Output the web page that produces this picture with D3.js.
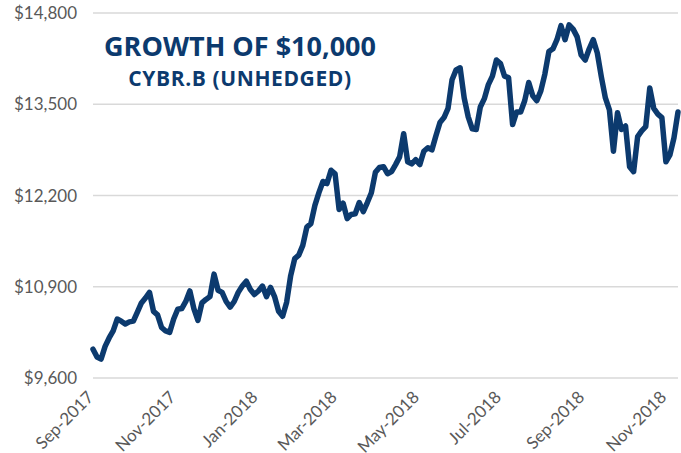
<!DOCTYPE html>
<html>
<head>
<meta charset="utf-8">
<script src="https://cdn.jsdelivr.net/npm/d3@7"></script>
<style>
  html, body { margin: 0; padding: 0; background: #fff; }
  svg { display: block; }
</style>
</head>
<body>
<script>
const outerWidth = 681
const outerHeight = 453
const margins = { top: 13, bottom: 74, left: 93, right: 3 }

const titleText = 'GROWTH OF $10,000'
const subtitleText = 'CYBR.B (UNHEDGED)'

// one reading every 3 calendar days, starting 2017-08-31
const startDate = '2017-08-31'
const stepDays = 3
const values = [
  10010, 9900, 9870, 10050, 10170, 10270, 10440, 10410, 10370, 10400,
  10410, 10540, 10670, 10740, 10820, 10550, 10500, 10320, 10270, 10250,
  10440, 10580, 10590, 10690, 10840, 10590, 10420, 10670, 10720, 10760,
  11080, 10850, 10820, 10690, 10610, 10690, 10820, 10910, 10980, 10860,
  10790, 10840, 10910, 10760, 10890, 10760, 10550, 10480, 10680, 11060,
  11300, 11350, 11490, 11750, 11800, 12060, 12240, 12400, 12370, 12560,
  12510, 12000, 12090, 11870, 11930, 11940, 12100, 11970, 12100, 12240,
  12530, 12600, 12610, 12510, 12540, 12640, 12750, 13080, 12680, 12650,
  12710, 12640, 12830, 12880, 12850, 13050, 13240, 13310, 13440, 13850,
  13990, 14020, 13590, 13320, 13150, 13140, 13460, 13580, 13780, 13900,
  14130, 14080, 13900, 13880, 13210, 13390, 13390, 13550, 13810, 13620,
  13550, 13690, 13930, 14250, 14290, 14420, 14620, 14420, 14630, 14570,
  14460, 14200, 14130, 14290, 14420, 14230, 13890, 13590, 13420, 12830,
  13380, 13140, 13190, 12610, 12540, 13040, 13120, 13180, 13730, 13440,
  13360, 13310, 12680, 12780, 13020, 13390
]

const yTicks = [9600, 10900, 12200, 13500, 14800]
const xTickDates = ['2017-09-01', '2017-11-01', '2018-01-01', '2018-03-01',
  '2018-05-01', '2018-07-01', '2018-09-01', '2018-11-01']
const xTickLabels = ['Sep-2017', 'Nov-2017', 'Jan-2018', 'Mar-2018',
  'May-2018', 'Jul-2018', 'Sep-2018', 'Nov-2018']

const parseDate = d3.utcParse('%Y-%m-%d')
const start = parseDate(startDate)
const data = values.map((v, i) => ({
  date: d3.utcDay.offset(start, i * stepDays),
  value: v
}))

const svg = d3.select('body').append('svg')
  .attr('width', outerWidth)
  .attr('height', outerHeight)

const xScale = d3.scaleUtc()
  .domain(d3.extent(data, d => d.date))
  .range([margins.left, outerWidth - margins.right])
const yScale = d3.scaleLinear()
  .domain([9600, 14800])
  .range([outerHeight - margins.bottom - 1, margins.top])

// gridlines
svg.append('g')
  .selectAll('line')
  .data(yTicks)
  .join('line')
  .attr('x1', margins.left)
  .attr('x2', outerWidth - margins.right)
  .attr('y1', d => yScale(d))
  .attr('y2', d => yScale(d))
  .attr('stroke', '#d9d9d9')
  .attr('stroke-width', 1.5)

// y labels
svg.append('g')
  .selectAll('text')
  .data(yTicks)
  .join('text')
  .attr('x', 77)
  .attr('y', d => yScale(d))
  .attr('dy', '0.36em')
  .attr('text-anchor', 'end')
  .attr('font-family', 'Lato, sans-serif')
  .attr('font-size', 17)
  .attr('fill', '#595959')
  .text(d => '$' + d3.format(',')(d))

// x labels, rotated
svg.append('g')
  .selectAll('text')
  .data(xTickDates)
  .join('text')
  .attr('transform', d => `translate(${xScale(parseDate(d)) - 4},394) rotate(-45)`)
  .attr('dy', '0.36em')
  .attr('text-anchor', 'end')
  .attr('font-family', 'Lato, sans-serif')
  .attr('font-size', 17)
  .attr('fill', '#595959')
  .text((d, i) => xTickLabels[i])

const line = d3.line()
  .x(d => xScale(d.date))
  .y(d => yScale(d.value))

svg.append('path')
  .datum(data)
  .attr('d', line)
  .attr('fill', 'none')
  .attr('stroke', '#0c3a6e')
  .attr('stroke-width', 5.5)
  .attr('stroke-linejoin', 'round')
  .attr('stroke-linecap', 'round')

svg.append('text')
  .attr('x', 240)
  .attr('y', 56)
  .attr('text-anchor', 'middle')
  .attr('font-family', '"Open Sans", sans-serif')
  .attr('font-weight', 700)
  .attr('font-size', 27)
  .attr('fill', '#0c3a6e')
  .text(titleText)

svg.append('text')
  .attr('x', 240)
  .attr('y', 86)
  .attr('text-anchor', 'middle')
  .attr('font-family', '"Open Sans", sans-serif')
  .attr('font-weight', 700)
  .attr('font-size', 21)
  .attr('letter-spacing', 0.6)
  .attr('fill', '#0c3a6e')
  .text(subtitleText)
</script>
</body>
</html>
